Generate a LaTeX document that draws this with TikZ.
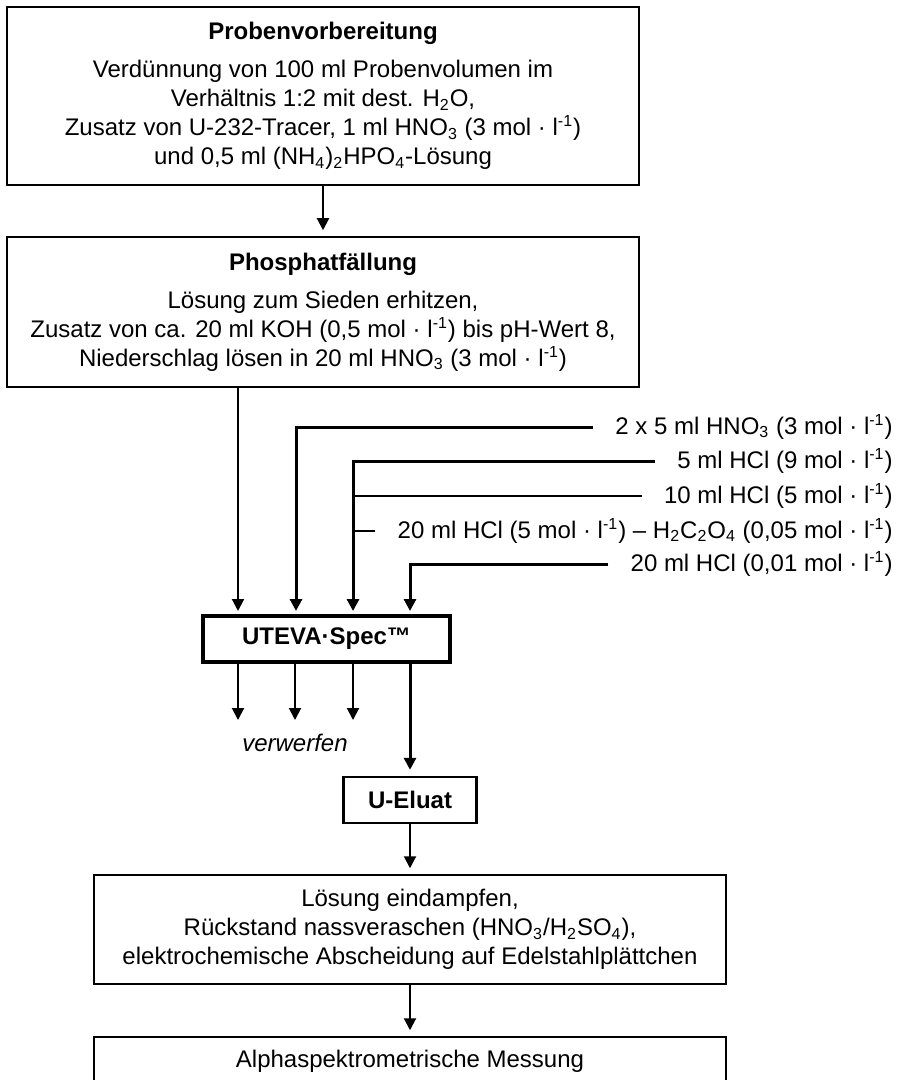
\documentclass[tikz,border=0pt]{standalone}
\usepackage{fontspec}
\setmainfont{Liberation Sans}
\usepackage{tikz}
\usetikzlibrary{arrows.meta, positioning}

\newcommand{\molL}{mol · l\textsuperscript{-1}}

\begin{document}
\begin{tikzpicture}[
        % Unités : 1 = un pixel de l'image, axe y vers le bas
        x=0.5pt, y=-0.5pt,
        every node/.style = {font=\fontsize{12pt}{14.5pt}\selectfont},
        % Style des étapes (grands blocs)
        etape/.style = {
            rectangle,
            draw=black,
            line width=0.75pt,
            minimum width=316pt,
            inner sep=0pt,
            align=center
        },
        % Style de la colonne (mise en évidence)
        colonne/.style = {
            rectangle,
            draw=black,
            line width=1.6pt,
            minimum width=123.5pt,
            minimum height=23pt,
            font=\fontsize{12pt}{14.5pt}\selectfont\bfseries
        },
        % Style de l'éluat
        eluat/.style = {
            rectangle,
            draw=black,
            line width=1.2pt,
            minimum width=66.5pt,
            minimum height=23pt,
            font=\fontsize{12pt}{14.5pt}\selectfont\bfseries
        },
        % Style des réactifs (à droite)
        reactif/.style = {
            anchor=east,
            inner xsep=11pt,
            inner ysep=2pt
        },
        % Style des flèches
        fleche/.style = {
            -{Triangle[width=6pt, length=6pt]},
            line width=1pt
        },
        fleche epaisse/.style = {
            -{Triangle[width=6pt, length=6pt]},
            line width=1.5pt
        },
        ligne fine/.style = {
            line width=0.65pt
        }
    ]

        \useasboundingbox (0,0) rectangle (898,1080);

        % 1. Placement des nœuds (Nodes)
        \node (prep) [etape, minimum height=89pt] at (323,96)
            {\textbf{Probenvorbereitung}\\[4.5pt]
             Verdünnung von 100 ml Probenvolumen im\\
             Verhältnis 1:2 mit dest. H\textsubscript{2}O,\\
             Zusatz von U-232-Tracer, 1 ml HNO\textsubscript{3} (3 \molL)\\
             und 0,5 ml (NH\textsubscript{4})\textsubscript{2}HPO\textsubscript{4}-Lösung};
        \node (phos) [etape, minimum height=75pt] at (323,312)
            {\textbf{Phosphatfällung}\\[4.5pt]
             Lösung zum Sieden erhitzen,\\
             Zusatz von ca. 20 ml KOH (0,5 \molL) bis pH-Wert 8,\\
             Niederschlag lösen in 20 ml HNO\textsubscript{3} (3 \molL)};

        \node (hno)    [reactif] at (915,427) {2 x 5 ml HNO\textsubscript{3} (3 \molL)};
        \node (hcl9)   [reactif] at (915,461) {5 ml HCl (9 \molL)};
        \node (hcl5)   [reactif] at (915,496) {10 ml HCl (5 \molL)};
        \node (oxal)   [reactif] at (915,531) {20 ml HCl (5 \molL) – H\textsubscript{2}C\textsubscript{2}O\textsubscript{4} (0,05 \molL)};
        \node (hcl001) [reactif] at (915,564) {20 ml HCl (0,01 \molL)};

        \node (uteva) [colonne] at (326.5,639) {UTEVA·Spec™};
        \node (rejet) at (295,743) {\itshape verwerfen};
        \node (ueluat) [eluat] at (410,800) {U-Eluat};

        \node (trait) [etape, minimum height=54.5pt] at (410,929.5)
            {Lösung eindampfen,\\
             Rückstand nassveraschen (HNO\textsubscript{3}/H\textsubscript{2}SO\textsubscript{4}),\\
             elektrochemische Abscheidung auf Edelstahlplättchen};
        \node (mesure) [etape, minimum height=24pt] at (410,1061)
            {Alphaspektrometrische Messung};

        % Entrées et sorties de la colonne
        \coordinate (in1) at (238,611);
        \coordinate (in2) at (296,611);
        \coordinate (in3) at (353,611);
        \coordinate (in4) at (410,611);
        \coordinate (rej1) at (238,720);
        \coordinate (rej2) at (295,720);
        \coordinate (rej3) at (353,720);

        % 2. Tracé des flèches (Arrows)
        \draw [fleche, shorten >=3pt] (prep) -- (phos);
        \draw [fleche] (in1 |- phos.south) -- (in1);
        \draw [fleche epaisse] (hno.west) -| (in2);
        \draw [fleche epaisse] (hcl9.west) -| (in3);
        \draw [ligne fine] (hcl5.west) -- (hcl5.west -| in3);
        \draw [ligne fine] (oxal.west) -- (oxal.west -| in3);
        \draw [fleche epaisse] (hcl001.west) -| (in4);

        \draw [fleche] (rej1 |- uteva.south) -- (rej1);
        \draw [fleche] (rej2 |- uteva.south) -- (rej2);
        \draw [fleche] (rej3 |- uteva.south) -- (rej3);
        \draw [fleche epaisse, shorten >=3pt] (in4 |- uteva.south) -- (ueluat);

        \draw [fleche, shorten >=3pt] (ueluat) -- (trait);
        \draw [fleche, shorten >=3pt] (trait) -- (mesure);

    \end{tikzpicture}
\end{document}
